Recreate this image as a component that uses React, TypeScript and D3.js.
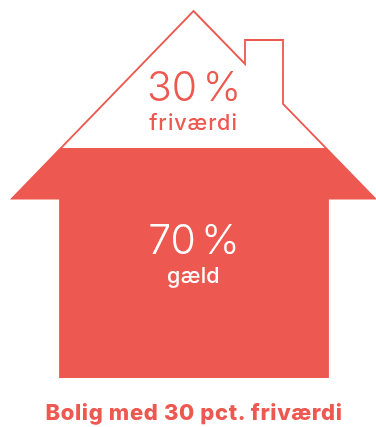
import React from "react";
import * as d3 from "d3";

const shareLabels = ["friværdi", "gæld"];
const shareValues = [30, 70];
const title = "Bolig med 30 pct. friværdi";
const RED = "#ed5850";

const W = 376, H = 427;
const yShare = d3.scaleLinear().domain([0, 100]).range([377, 50]);
const debtLevel = yShare(shareValues[1]);

const outline: [number, number][] = [
  [193.5, 11], [245, 64], [245, 40], [283, 40], [283, 104], [375, 198.5],
  [328, 198.5], [328, 377], [60, 377], [60, 198.5], [12, 198.5],
];
const path = d3.line()(outline)! + "Z";

export default function App() {
  const font = "Inter, sans-serif";
  const Num = ({ v, y, fill }: { v: number; y: number; fill: string }) => (
    <text x={194} y={y} textAnchor="middle" fontFamily={font} fontWeight={300} fontSize={41} fill={fill}>
      {v}<tspan dx={5.5}>%</tspan>
    </text>
  );
  return (
    <svg width={W} height={H} viewBox={`0 0 ${W} ${H}`}
      style={{ position: "fixed", left: 0, top: 0, display: "block" }}>
      <defs>
        <clipPath id="debt">
          <rect x={0} y={debtLevel} width={W} height={H - debtLevel} />
        </clipPath>
      </defs>
      <path d={path} fill="#fff" stroke={RED} strokeWidth={1.8} strokeLinejoin="miter" />
      <path d={path} fill={RED} clipPath="url(#debt)" />
      <Num v={shareValues[0]} y={101} fill={RED} />
      <text x={193.5} y={130} textAnchor="middle" fontFamily={font} fontWeight={500} fontSize={21.5} letterSpacing={1} fill={RED}>{shareLabels[0]}</text>
      <Num v={shareValues[1]} y={254} fill="#fff" />
      <text x={193.5} y={283} textAnchor="middle" fontFamily={font} fontWeight={500} fontSize={21.5} letterSpacing={0.3} fill="#fff">{shareLabels[1]}</text>
      <text x={194} y={420} textAnchor="middle" fontFamily={font} fontWeight={800} fontSize={22} letterSpacing={0.65} fill={RED}>{title}</text>
    </svg>
  );
}
